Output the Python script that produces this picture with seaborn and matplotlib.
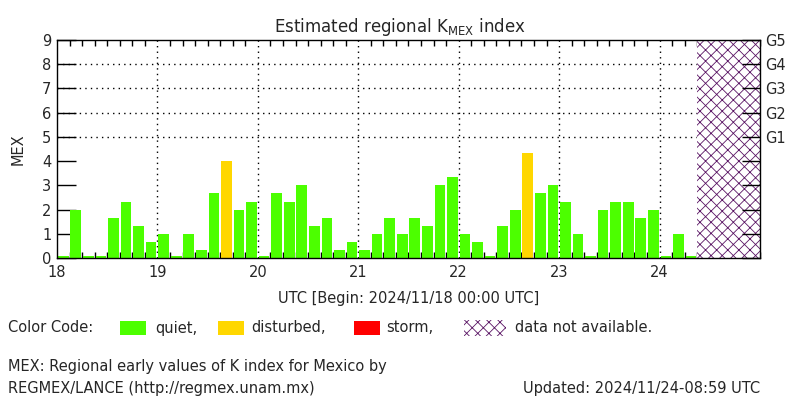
import numpy as np
import pandas as pd
import matplotlib
matplotlib.use('Agg')
import matplotlib.pyplot as plt
from matplotlib.patches import Rectangle
import seaborn as sns

# ===================== data =====================
day_start = 18
n_days = 7
# 3-hourly K values, 2024/11/18 00 UTC onward (last ones not yet available)
k_values = [0, 2.0, 0, 0, 1.67, 2.33, 1.33, 0.67,          # 18
            1.0, 0, 1.0, 0.33, 2.67, 4.0, 2.0, 2.33,       # 19
            0, 2.67, 2.33, 3.0, 1.33, 1.67, 0.33, 0.67,    # 20
            0.33, 1.0, 1.67, 1.0, 1.67, 1.33, 3.0, 3.33,   # 21
            1.0, 0.67, 0, 1.33, 2.0, 4.33, 2.67, 3.0,      # 22
            2.33, 1.0, 0, 2.0, 2.33, 2.33, 1.67, 2.0,      # 23
            0, 1.0, 0]                                     # 24
levels = ['quiet', 'disturbed', 'storm']
level_colors = {'quiet': '#4cff00', 'disturbed': '#ffd700', 'storm': '#ff0000'}
na_color = '#5a1464'
day_labels = ['18', '19', '20', '21', '22', '23', '24']
g_labels = ['G1', 'G2', 'G3', 'G4', 'G5']

# ===================== setup =====================
sns.set_style('white')
plt.rcParams['font.family'] = ['DejaVu Sans']
plt.rcParams['hatch.linewidth'] = 0.6
plt.rcParams['hatch.color'] = na_color

k = np.array(k_values)
t = day_start + (np.arange(len(k)) + 0.5) / 8.0
lvl = np.where(k >= 5, 'storm', np.where(k >= 4, 'disturbed', 'quiet'))
# zero values still shown as a thin stub
df = pd.DataFrame({'t': t, 'k': np.maximum(k, 0.1), 'level': lvl})

fig = plt.figure(figsize=(8, 4), dpi=100)
ax = fig.add_axes([57 / 800, 1 - 258 / 400, 703 / 800, 218 / 400])

sns.barplot(data=df, x='t', y='k', hue='level', palette=level_colors,
            native_scale=True, dodge=False, width=0.85, saturation=1,
            errorbar=None, legend=False, linewidth=0, ax=ax)

# data not available
t_end = day_start + len(k) / 8.0
ax.axvspan(t_end, day_start + n_days, facecolor='white', edgecolor=na_color,
           hatch='xxx', linewidth=0)

ax.set_xlim(day_start, day_start + n_days)
ax.set_ylim(0, 9)

# grid
for d in range(day_start + 1, day_start + n_days):
    ax.axvline(d, color='black', linestyle=(0, (1, 3)), linewidth=1, zorder=0.5)
for y in [5, 6, 7, 8]:
    ax.axhline(y, color='black', linestyle=(0, (1, 3)), linewidth=1, zorder=0.5)

ax.set_xticks(range(day_start, day_start + n_days))
ax.set_xticklabels(day_labels, fontsize=10.5)
ax.set_xticks(np.arange(day_start, day_start + n_days + 0.01, 0.125), minor=True)
ax.set_yticks(range(0, 10))
ax.set_yticklabels([str(i) for i in range(10)], fontsize=10.5)
ax.tick_params(axis='x', which='major', direction='in', length=0, pad=5,
               top=False, bottom=False)
ax.tick_params(axis='x', which='minor', direction='in', length=4, width=1,
               top=True, bottom=True, color='black')
ax.tick_params(axis='y', which='major', direction='in', length=14, width=1,
               left=True, right=False, pad=4, color='black')
ax.set_xlabel('UTC [Begin: 2024/11/18 00:00 UTC]', fontsize=10.5, labelpad=8)
ax.set_ylabel('MEX', fontsize=10.5, labelpad=12)
for s in ax.spines.values():
    s.set_color('black')
    s.set_linewidth(1)

ax2 = ax.twinx()
ax2.set_ylim(0, 9)
ax2.set_yticks(range(0, 10))
ax2.set_yticklabels([''] * 5 + g_labels, fontsize=10.5)
ax2.tick_params(axis='y', direction='in', length=13, width=1, pad=4, color='black')
for s in ax2.spines.values():
    s.set_visible(False)

fig.text(0.5, 1 - 27 / 400, r'Estimated regional K$_{\mathregular{MEX}}$ index',
         ha='center', va='center', fontsize=12)

# color code legend
ly = 1 - 328 / 400
fig.text(8 / 800, ly, 'Color Code:', ha='left', va='center', fontsize=10.5)
items = [(120, 155, 'quiet,', level_colors['quiet']),
         (218, 251, 'disturbed,', level_colors['disturbed']),
         (354, 386, 'storm,', level_colors['storm'])]
for px, tx, lab, col in items:
    fig.patches.append(Rectangle((px / 800, 1 - 335 / 400), 26 / 800, 14 / 400,
                                 transform=fig.transFigure, facecolor=col,
                                 edgecolor='none'))
    fig.text(tx / 800, ly, lab, ha='left', va='center', fontsize=10.5)
fig.patches.append(Rectangle((464 / 800, 1 - 336 / 400), 42 / 800, 16 / 400,
                             transform=fig.transFigure, facecolor='white',
                             edgecolor=na_color, hatch='xxx', linewidth=0))
fig.text(515 / 800, ly, 'data not available.', ha='left', va='center', fontsize=10.5)

fig.text(8 / 800, 1 - 367 / 400, 'MEX: Regional early values of K index for Mexico by',
         ha='left', va='center', fontsize=10.5)
fig.text(8 / 800, 1 - 388 / 400, 'REGMEX/LANCE (http://regmex.unam.mx)',
         ha='left', va='center', fontsize=10.5)
fig.text(760 / 800, 1 - 388 / 400, 'Updated: 2024/11/24-08:59 UTC',
         ha='right', va='center', fontsize=10.5)

fig.savefig('out.png', dpi=100)
